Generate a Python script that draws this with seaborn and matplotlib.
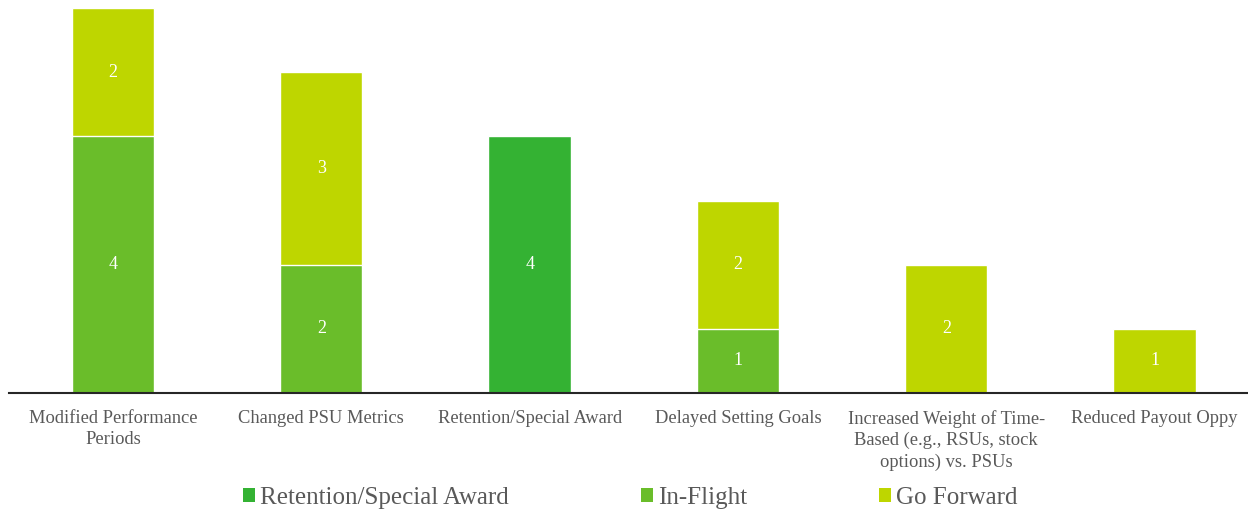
import numpy as np
import pandas as pd
import seaborn as sns
import matplotlib.pyplot as plt
from matplotlib.patches import Patch

categories = ['Modified Performance\nPeriods', 'Changed PSU Metrics', 'Retention/Special Award',
              'Delayed Setting Goals', 'Increased Weight of Time-\nBased (e.g., RSUs, stock\noptions) vs. PSUs',
              'Reduced Payout Oppy']
retention = [0, 0, 4, 0, 0, 0]
in_flight = [4, 2, 0, 1, 0, 0]
go_forward = [2, 3, 0, 2, 2, 1]

series_names = ['Retention/Special Award', 'In-Flight', 'Go Forward']
colors = ['#34B233', '#6ABD2A', '#BED600']

df = pd.DataFrame({'cat': categories, 'ret': retention, 'inf': in_flight, 'gf': go_forward})
df['lvl1'] = df['ret']
df['lvl2'] = df['ret'] + df['inf']
df['lvl3'] = df['lvl2'] + df['gf']

sns.set_style('white')
plt.rcParams['font.family'] = ['Liberation Serif', 'DejaVu Serif']

fig = plt.figure(figsize=(12.48, 5.09), dpi=100)
# axes spans a bit past the right edge, like the original
ax = fig.add_axes([8.8 / 1248, 116 / 509, 1250 / 1248, 385 / 509])

w = 0.395
# draw cumulative totals back to front to get the stacked look
sns.barplot(data=df, x='cat', y='lvl3', color=colors[2], width=w, saturation=1, ax=ax)
sns.barplot(data=df, x='cat', y='lvl2', color=colors[1], width=w, saturation=1, ax=ax)
sns.barplot(data=df, x='cat', y='lvl1', color=colors[0], width=w, saturation=1, ax=ax)

for i, row in df.iterrows():
    segs = [(0, row['ret']), (row['lvl1'], row['inf']), (row['lvl2'], row['gf'])]
    for base, h in segs:
        if h > 0:
            ax.text(i, base + h / 2, str(int(h)), ha='center', va='center', color='white', fontsize=13)

ax.set_xlim(-0.5, 5.5)
ax.set_ylim(0, 6)
ax.set_xlabel('')
ax.set_ylabel('')
ax.set_yticks([])
ax.set_xticks(range(len(categories)))
ax.set_xticklabels(categories, linespacing=1.32)
ax.tick_params(axis='x', length=0, pad=12, labelsize=13.3, labelcolor='#595959')
for s in ['top', 'right', 'left']:
    ax.spines[s].set_visible(False)
ax.spines['bottom'].set_color('#262626')
ax.spines['bottom'].set_linewidth(1.5)
ax.patch.set_alpha(0)

handles = [Patch(facecolor=c, edgecolor='none') for c in colors]
fig.legend(handles, series_names, loc='center', bbox_to_anchor=(0.505, 0.022), ncol=3,
           frameon=False, fontsize=18, handlelength=0.48, handleheight=0.48,
           handletextpad=0.2, columnspacing=5.3, labelcolor='#595959')

fig.savefig('out.png', dpi=100)
